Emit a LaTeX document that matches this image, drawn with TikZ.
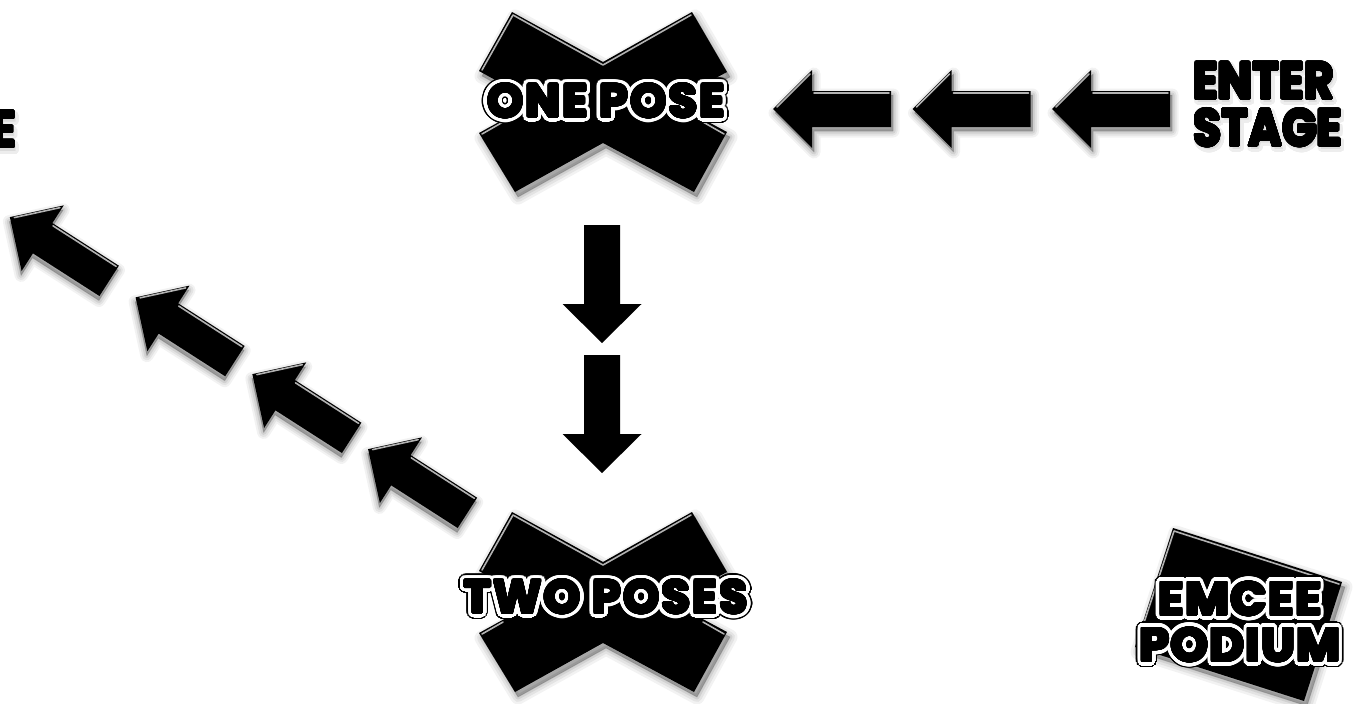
\documentclass[tikz,border=0pt]{standalone}
\usepackage{fontspec}
\setmainfont{Poppins}
\usepackage{graphicx}
\usepackage{contour}
\contournumber{48}
\newcommand{\outl}[1]{\rlap{\contourlength{6.4pt}\contour{black}{#1}}\rlap{\contourlength{5pt}\contour{white}{\textcolor{white}{#1}}}\contourlength{1.3pt}\contour{black}{#1}}
\newcommand{\heavy}[1]{\contourlength{1.1pt}\contour{black}{\scalebox{0.88}[1]{#1}}}
\newcommand{\halo}[1]{\contourlength{3pt}\contour{black!7}{\textcolor{black!14}{\scalebox{0.88}[1]{#1}}}}
\tikzset{
  softshadow/.style={black,opacity=#1,line join=round},
  bevel/.style={gray!60,line width=1.6pt,line cap=round,line join=round},
  blockarrow/.pic={
    \foreach \w/\o in {13/0.05,9/0.06,5/0.08,1/0.1}
      \filldraw[softshadow=\o,line width=\w pt,shift={(2,4)}]
        (-59,0) -- (-20,-39) -- (-20,-18) -- (59,-18) -- (59,18) -- (-20,18) -- (-20,39) -- cycle;
    \fill[black] (-59,0) -- (-20,-39) -- (-20,-18) -- (59,-18) -- (59,18) -- (-20,18) -- (-20,39) -- cycle;
    \draw[bevel] (-55,-2) -- (-22,-35);
    \draw[bevel] (-18,-16) -- (57,-16);
  },
  flatarrow/.pic={
    \fill[black] (-59,0) -- (-20,-39.5) -- (-20,-18) -- (59,-18) -- (59,18) -- (-20,18) -- (-20,39.5) -- cycle;
  },
  crossshape/.pic={
    \foreach \w/\o in {15/0.05,10/0.06,5/0.08,1/0.1}
      \filldraw[softshadow=\o,line width=\w pt,shift={(3,5)}]
        (-91,-90) -- (0,-40) -- (89,-90) -- (124,-30) -- (68,0) -- (124,30) -- (91,90) -- (0,41) -- (-88,90) -- (-124,31) -- (-68,0) -- (-124,-31) -- cycle;
    \fill[black] (-91,-90) -- (0,-40) -- (89,-90) -- (124,-30) -- (68,0) -- (124,30) -- (91,90) -- (0,41) -- (-88,90) -- (-124,31) -- (-68,0) -- (-124,-31) -- cycle;
    \draw[bevel] (-121,-32) -- (-90,-87) -- (0,-37) -- (88,-87);
    \draw[bevel] (-121,32) -- (-100,20);
    \draw[bevel] (121,32) -- (100,20);
  },
  poselabel/.style={inner sep=0pt,font=\fontsize{46}{46}\selectfont\bfseries\addfontfeatures{LetterSpace=5}},
  stagelabel/.style={inner sep=0pt,align=left,font=\fontsize{52}{47}\selectfont\bfseries}
}
\begin{document}
\begin{tikzpicture}[x=1pt,y=-1pt]
  \fill[white] (0,0) rectangle (1355,704);
  \useasboundingbox (0,0) rectangle (1355,704);

  % emcee podium block
  \foreach \w/\o in {15/0.05,10/0.06,5/0.08,1/0.1}
    \filldraw[softshadow=\o,line width=\w pt,shift={(3,5)}]
      (1173,528) -- (1342,582) -- (1304,701) -- (1135,647) -- cycle;
  \fill[black] (1173,528) -- (1342,582) -- (1304,701) -- (1135,647) -- cycle;
  \draw[bevel] (1137,644) -- (1174,531) -- (1339,584);

  % pose crosses
  \pic at (603,102) {crossshape};
  \pic at (603,602) {crossshape};

  % enter arrows
  \pic at (832,109) {blockarrow};
  \pic at (971.5,109) {blockarrow};
  \pic at (1111,109) {blockarrow};

  % down arrows
  \pic[rotate=90] at (602,284) {flatarrow};
  \pic[rotate=90] at (602,414) {flatarrow};

  % exit arrows
  \pic[rotate=-32.7] at (59.5,249) {blockarrow};
  \pic[rotate=-32.7] at (185.25,329.25) {blockarrow};
  \pic[rotate=-32.7] at (302,406) {blockarrow};
  \pic[rotate=-32.7] at (417.75,481) {blockarrow};

  % labels
  \node[stagelabel,anchor=west] at (1195,109) {\halo{ENTER}\\\halo{STAGE}};
  \node[stagelabel,anchor=west] (enter) at (1193,105) {\heavy{ENTER}\\\heavy{STAGE}};
  \node[stagelabel,anchor=east] at (18,135) {\halo{E}};
  \node[stagelabel,anchor=east] (exit) at (16,130) {\heavy{E}};

  \node[poselabel] (onepose) at (606,104) {\outl{ONE POSE}};
  \node[poselabel] (twoposes) at (606,600) {\outl{TWO POSES}};
  \node[inner sep=0pt,align=center,font=\fontsize{47}{46}\selectfont\bfseries\addfontfeatures{LetterSpace=4}] (emcee) at (1240,625) {\outl{EMCEE}\\\outl{PODIUM}};
\end{tikzpicture}
\end{document}
